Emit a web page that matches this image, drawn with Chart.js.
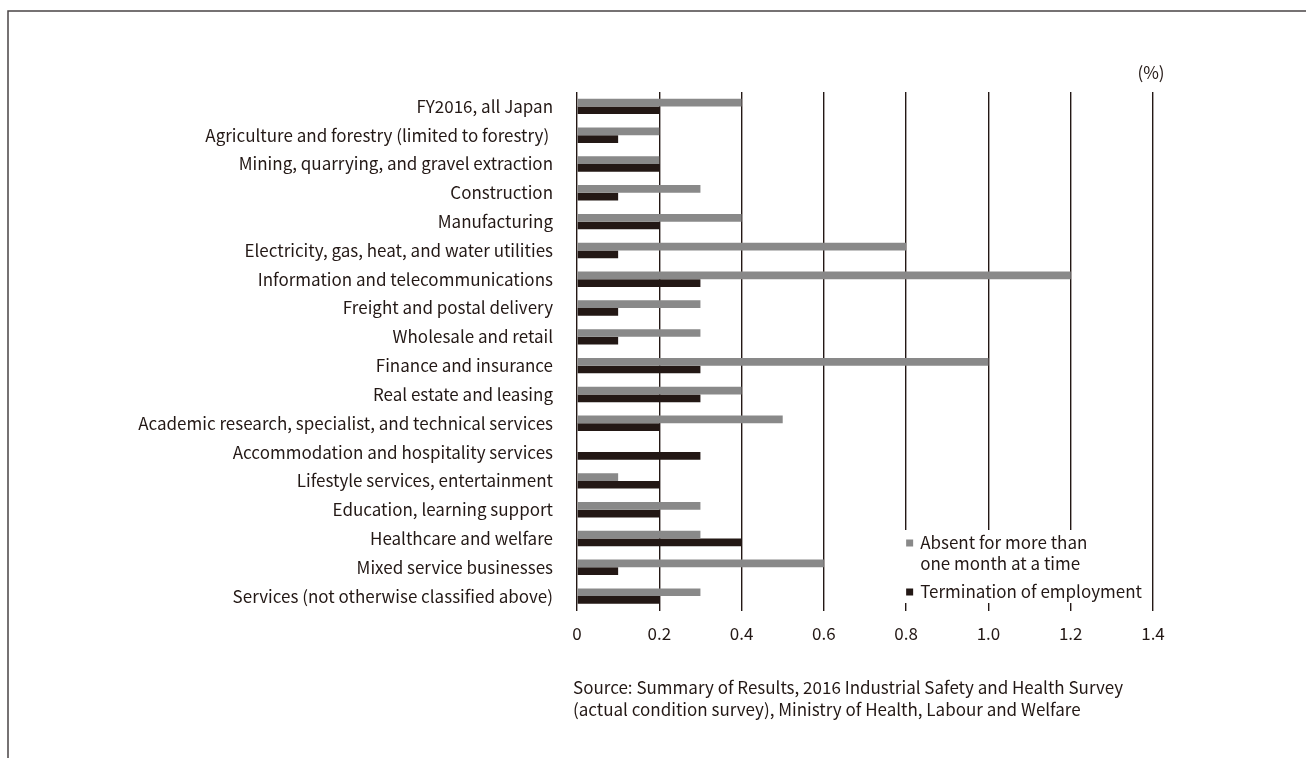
<!DOCTYPE html>
<html>
<head>
<meta charset="utf-8">
<script src="https://cdn.jsdelivr.net/npm/chart.js@4.4.1/dist/chart.umd.min.js"></script>
<style>
  html, body { margin: 0; padding: 0; background: #ffffff; }
  #wrap { width: 1306px; height: 758px; position: relative; }
</style>
</head>
<body>
<div id="wrap"><canvas id="c" width="1306" height="758"></canvas></div>
<script>
const categories = [
  "FY2016, all Japan",
  "Agriculture and forestry (limited to forestry) ",
  "Mining, quarrying, and gravel extraction",
  "Construction",
  "Manufacturing",
  "Electricity, gas, heat, and water utilities",
  "Information and telecommunications",
  "Freight and postal delivery",
  "Wholesale and retail",
  "Finance and insurance",
  "Real estate and leasing",
  "Academic research, specialist, and technical services",
  "Accommodation and hospitality services",
  "Lifestyle services, entertainment",
  "Education, learning support",
  "Healthcare and welfare",
  "Mixed service businesses",
  "Services (not otherwise classified above)"
];
const absentValues = [0.4, 0.2, 0.2, 0.3, 0.4, 0.8, 1.2, 0.3, 0.3, 1.0, 0.4, 0.5, 0, 0.1, 0.3, 0.3, 0.6, 0.3];
const terminationValues = [0.2, 0.1, 0.2, 0.1, 0.2, 0.1, 0.3, 0.1, 0.1, 0.3, 0.3, 0.2, 0.3, 0.2, 0.2, 0.4, 0.1, 0.2];
const seriesNames = [["Absent for more than", "one month at a time"], ["Termination of employment"]];
const xTickLabels = ["0", "0.2", "0.4", "0.6", "0.8", "1.0", "1.2", "1.4"];
const unitLabel = "(%)";
const sourceLines = [
  "Source: Summary of Results, 2016 Industrial Safety and Health Survey",
  "(actual condition survey), Ministry of Health, Labour and Welfare"
];

const FONT = "'Noto Sans CJK JP', 'Noto Sans', sans-serif";
const FS = 17;
const INK = "#231815";
const GREY = "#898989";

const frameAndText = {
  id: 'frameAndText',
  beforeDraw(chart) {
    const ctx = chart.ctx;
    ctx.save();
    ctx.fillStyle = '#ffffff';
    ctx.fillRect(0, 0, chart.width, chart.height);
    ctx.strokeStyle = '#4a4446';
    ctx.lineWidth = 1.5;
    ctx.beginPath();
    ctx.moveTo(8, chart.height);
    ctx.lineTo(8, 11);
    ctx.lineTo(chart.width, 11);
    ctx.stroke();
    ctx.restore();
  },
  afterDraw(chart) {
    const ctx = chart.ctx;
    const xs = chart.scales.x;
    ctx.save();
    // legend box
    const lx = xs.getPixelForValue(0.8) - 6;
    const ly = 530;
    ctx.fillStyle = '#ffffff';
    ctx.fillRect(lx, ly, xs.getPixelForValue(1.4) - 4 - lx, 603 - ly);
    ctx.font = FS + "px " + FONT;
    ctx.textBaseline = 'middle';
    ctx.textAlign = 'left';
    const sqX = xs.getPixelForValue(0.8);
    const rows = [[543, 564], [592]];
    chart.data.datasets.forEach((ds, i) => {
      ctx.fillStyle = ds.backgroundColor;
      ctx.fillRect(sqX, rows[i][0] - 3.5, 7, 7);
      ctx.fillStyle = INK;
      seriesNames[i].forEach((t, j) => ctx.fillText(t, sqX + 14, rows[i][j]));
    });
    // unit
    ctx.textAlign = 'center';
    ctx.fillText(unitLabel, xs.getPixelForValue(1.4) - 2, 73);
    // source
    ctx.textAlign = 'left';
    sourceLines.forEach((t, i) => ctx.fillText(t, 573, 688 + i * 22));
    ctx.restore();
  }
};

new Chart(document.getElementById('c'), {
  type: 'bar',
  data: {
    labels: categories,
    datasets: [
      { label: seriesNames[0].join(' '), data: absentValues, backgroundColor: GREY },
      { label: seriesNames[1].join(' '), data: terminationValues, backgroundColor: INK }
    ]
  },
  options: {
    indexAxis: 'y',
    responsive: false,
    animation: false,
    devicePixelRatio: 1,
    layout: { padding: { top: 92, right: 153, bottom: 100, left: 0 } },
    datasets: { bar: { barPercentage: 1.0, categoryPercentage: 0.535 } },
    plugins: { legend: { display: false }, tooltip: { enabled: false } },
    scales: {
      x: {
        z: 1,
        min: 0, max: 1.4,
        afterFit(scale) { scale.height = 758 - 610.5 - 100; },
        afterBuildTicks(scale) {
          scale.ticks = xTickLabels.map(v => ({ value: parseFloat(v) }));
        },
        ticks: {
          callback: (v, i) => xTickLabels[i],
          color: INK,
          font: { family: FONT, size: FS },
          padding: 13,
          maxRotation: 0
        },
        grid: { color: INK, lineWidth: 1.4, drawTicks: false },
        border: { display: false }
      },
      y: {
        afterFit(scale) { scale.width = 577; },
        ticks: {
          color: INK,
          font: { family: FONT, size: FS },
          padding: 24,
          autoSkip: false
        },
        grid: { display: false, drawTicks: false },
        border: { display: false }
      }
    }
  },
  plugins: [frameAndText]
});
</script>
</body>
</html>
